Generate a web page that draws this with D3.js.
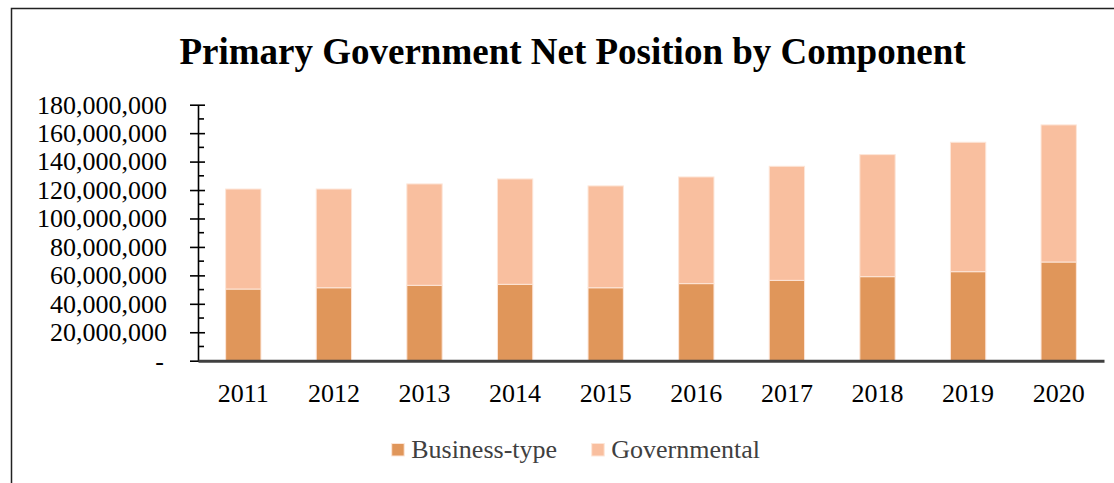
<!DOCTYPE html>
<html><head><meta charset="utf-8">
<script src="https://cdn.jsdelivr.net/npm/d3@7"></script>
<style>
html,body{margin:0;padding:0;background:#fff;}
svg{display:block;}
svg text{font-family:"Liberation Serif","Times New Roman",serif !important;}
</style></head>
<body>
<svg id="c" width="1114" height="483"></svg>
<script>
const years = ["2011","2012","2013","2014","2015","2016","2017","2018","2019","2020"];
const businessType = [50.4e6, 51.3e6, 53.0e6, 53.7e6, 51.3e6, 54.2e6, 56.5e6, 59.1e6, 62.6e6, 69.4e6];
const governmental = [70.3e6, 69.4e6, 71.3e6, 74.1e6, 71.6e6, 75.0e6, 80.2e6, 85.8e6, 91.0e6, 96.4e6];
const seriesNames = ["Business-type", "Governmental"];
const seriesColors = ["#E0965A", "#F9BF9F"];
const yTicks = [0, 20e6, 40e6, 60e6, 80e6, 100e6, 120e6, 140e6, 160e6, 180e6];
const title = "Primary Government Net Position by Component";

const svg = d3.select("#c");
svg.append("path").attr("d","M11.5,483 L11.5,8.5 L1114,8.5").attr("fill","none").attr("stroke","#222").attr("stroke-width",1.5);

svg.append("text").attr("x",572.5).attr("y",64).attr("text-anchor","middle")
  .attr("font-size",37).attr("font-weight","bold").attr("fill","#000").text(title);

const x0 = 198, x1 = 1104;
const y = d3.scaleLinear().domain([0,180e6]).range([360.7,104.7]);
const x = d3.scaleBand().domain(years).range([x0,x1]).paddingInner(0.61).paddingOuter(0.305);

const rows = years.map((yr,i)=>({year:yr, "Business-type":businessType[i], "Governmental":governmental[i]}));
const stack = d3.stack().keys(seriesNames)(rows);

const g = svg.append("g");
stack.forEach((s,si)=>{
  g.selectAll(null).data(s).enter().append("rect")
    .attr("x", d=>x(d.data.year))
    .attr("width", x.bandwidth())
    .attr("y", d=>y(d[1]))
    .attr("height", d=>y(d[0])-y(d[1]))
    .attr("fill", seriesColors[si])
    .attr("stroke","#FDE6D8").attr("stroke-width",1);
});

const yAxis = d3.axisLeft(y).tickValues(yTicks).tickSize(0).tickPadding(31)
  .tickFormat(d=> d===0 ? "-" : d3.format(",")(d));
const ya = svg.append("g").attr("transform",`translate(${x0},0)`).call(yAxis);
ya.attr("font-family",null);
ya.select(".domain").attr("stroke","#000").attr("stroke-width",1.6);
ya.selectAll("text").attr("font-size",26).attr("fill","#000").attr("dy","0.32em");
ya.selectAll(".tick").filter(d=>d===0).select("text").attr("dx",-3);
ya.selectAll(".tick").append("line").attr("x1",-8).attr("x2",7).attr("stroke","#000").attr("stroke-width",1.6);
const minor = d3.range(10e6,180e6,20e6);
svg.append("g").selectAll("line").data(minor).enter().append("line")
  .attr("x1",x0).attr("x2",x0+6).attr("y1",d=>y(d)).attr("y2",d=>y(d))
  .attr("stroke","#000").attr("stroke-width",1.6);

const xAxis = d3.axisBottom(x).tickSize(0).tickPadding(23);
const xa = svg.append("g").attr("transform",`translate(0,${y(0)})`).call(xAxis);
xa.attr("font-family",null);
xa.select(".domain").attr("stroke","#404040").attr("stroke-width",3);
xa.selectAll("text").attr("font-size",26).attr("fill","#000");

const legend = svg.append("g");
const legX = [391.7, 591.7];
seriesNames.forEach((n,i)=>{
  legend.append("rect").attr("x",legX[i]).attr("y",443.5).attr("width",12.5).attr("height",12.5)
    .attr("fill",seriesColors[i]).attr("stroke","#FDE6D8").attr("stroke-width",1);
  legend.append("text").attr("x",legX[i]+19.5).attr("y",457.5).attr("font-size",26)
    .attr("fill","#404040").text(n);
});
</script>
</body></html>
